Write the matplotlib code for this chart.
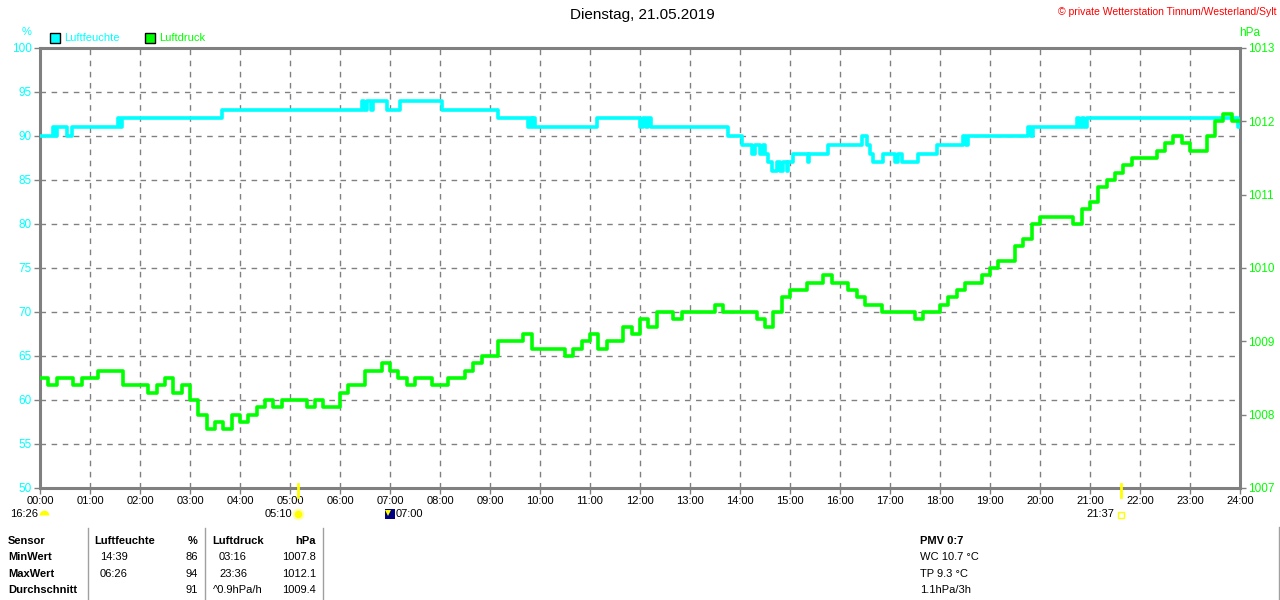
import matplotlib
matplotlib.use("Agg")
import matplotlib.pyplot as plt
from matplotlib.lines import Line2D
from matplotlib.patches import Rectangle
import matplotlib.transforms as mtransforms
import numpy as np

plt.rcParams['font.family'] = ['Liberation Sans', 'DejaVu Sans']

# ---------------- data ----------------
title = "Dienstag, 21.05.2019"
copyright_txt = "\u00a9 private Wetterstation Tinnum/Westerland/Sylt"

hour_labels = ["%02d:00" % h for h in range(25)]
hum_ticks = [50, 55, 60, 65, 70, 75, 80, 85, 90, 95, 100]
press_ticks = [1007, 1008, 1009, 1010, 1011, 1012, 1013]

hum_times = ["00:00", "00:16", "00:18", "00:20", "00:32", "00:38", "01:34", "01:36", "01:38", "03:38",
             "06:26", "06:29", "06:32", "06:37", "06:39", "06:56", "07:12", "08:02", "09:10", "09:46",
             "09:48", "09:50", "09:52", "09:54", "11:08", "12:00", "12:04", "12:07", "12:10", "12:13",
             "13:46", "14:02", "14:14", "14:18", "14:24", "14:27", "14:30", "14:34", "14:38", "14:44",
             "14:48", "14:52", "14:56", "14:58", "15:04", "15:21", "15:23", "15:46", "16:26", "16:32",
             "16:36", "16:40", "16:52", "17:06", "17:10", "17:14", "17:34", "17:56", "18:28", "18:31",
             "18:34", "19:46", "19:49", "19:52", "20:44", "20:47", "20:50", "20:53", "20:56", "23:58",
             "23:59"]
hum_vals = [90, 91, 90, 91, 90, 91, 92, 91, 92, 93,
            94, 93, 94, 93, 94, 93, 94, 93, 92, 91,
            92, 91, 92, 91, 92, 91, 92, 91, 92, 91,
            90, 89, 88, 89, 88, 89, 88, 87, 86, 87,
            86, 87, 86, 87, 88, 87, 88, 89, 90, 89,
            88, 87, 88, 87, 88, 87, 88, 89, 90, 89,
            90, 91, 90, 91, 92, 91, 92, 91, 92, 91,
            91]

# pressure every 10 minutes, 00:00 ... 24:00
press_vals = [
    1008.5, 1008.4, 1008.5, 1008.5, 1008.4, 1008.5,  # 00
    1008.5, 1008.6, 1008.6, 1008.6, 1008.4, 1008.4,  # 01
    1008.4, 1008.3, 1008.4, 1008.5, 1008.3, 1008.4,  # 02
    1008.2, 1008.0, 1007.8, 1007.9, 1007.8, 1008.0,  # 03
    1007.9, 1008.0, 1008.1, 1008.2, 1008.1, 1008.2,  # 04
    1008.2, 1008.2, 1008.1, 1008.2, 1008.1, 1008.1,  # 05
    1008.3, 1008.4, 1008.4, 1008.6, 1008.6, 1008.7,  # 06
    1008.6, 1008.5, 1008.4, 1008.5, 1008.5, 1008.4,  # 07
    1008.4, 1008.5, 1008.5, 1008.6, 1008.7, 1008.8,  # 08
    1008.8, 1009.0, 1009.0, 1009.0, 1009.1, 1008.9,  # 09
    1008.9, 1008.9, 1008.9, 1008.8, 1008.9, 1009.0,  # 10
    1009.1, 1008.9, 1009.0, 1009.0, 1009.2, 1009.1,  # 11
    1009.3, 1009.2, 1009.4, 1009.4, 1009.3, 1009.4,  # 12
    1009.4, 1009.4, 1009.4, 1009.5, 1009.4, 1009.4,  # 13
    1009.4, 1009.4, 1009.3, 1009.2, 1009.4, 1009.6,  # 14
    1009.7, 1009.7, 1009.8, 1009.8, 1009.9, 1009.8,  # 15
    1009.8, 1009.7, 1009.6, 1009.5, 1009.5, 1009.4,  # 16
    1009.4, 1009.4, 1009.4, 1009.3, 1009.4, 1009.4,  # 17
    1009.5, 1009.6, 1009.7, 1009.8, 1009.8, 1009.9,  # 18
    1010.0, 1010.1, 1010.1, 1010.3, 1010.4, 1010.6,  # 19
    1010.7, 1010.7, 1010.7, 1010.7, 1010.6, 1010.8,  # 20
    1010.9, 1011.1, 1011.2, 1011.3, 1011.4, 1011.5,  # 21
    1011.5, 1011.5, 1011.6, 1011.7, 1011.8, 1011.7,  # 22
    1011.6, 1011.6, 1011.8, 1012.0, 1012.1, 1012.0,  # 23
    1012.0]
press_step_min = 10

sun_events = ["05:10", "21:37"]
moon_time_label = "16:26"
other_time_label = "07:00"

table_header = ["Sensor", "Luftfeuchte", "%", "Luftdruck", "hPa"]
table_rows = [
    ["MinWert", "14:39", "86", "03:16", "1007.8"],
    ["MaxWert", "06:26", "94", "23:36", "1012.1"],
    ["Durchschnitt", "", "91", "^0.9hPa/h", "1009.4"],
]
extra_info = ["PMV 0:7", "WC 10.7 \u00b0C", "TP 9.3 \u00b0C", "1.1hPa/3h"]

# ---------------- helpers ----------------
def to_h(s):
    hh, mm = s.split(":")
    return int(hh) + int(mm) / 60.0

W, H = 1280, 600
CYAN = "#00FFFF"
GREEN = "#00FF00"
GRAY = "#808080"

fig = plt.figure(figsize=(W / 100, H / 100), dpi=100)
fig.patch.set_facecolor("white")

def T(x, y, s, **kw):
    kw.setdefault("va", "center")
    kw.setdefault("fontsize", 8)
    fig.text(x / W, 1 - y / H, s, **kw)

ax = fig.add_axes([40 / W, 112 / H, 1200 / W, 440 / H])
ax.set_xlim(0, 24)
ax.set_ylim(50, 100)
ax.set_xticks(range(25))
ax.set_xticklabels(hour_labels, fontsize=8)
ax.set_yticks(hum_ticks)
ax.set_yticklabels([str(v) for v in hum_ticks], fontsize=8.5)
ax.grid(True, color=GRAY, linestyle=(0, (4, 4)), linewidth=1)
ax.set_axisbelow(True)
for sp in ax.spines.values():
    sp.set_color(GRAY)
    sp.set_linewidth(2.2)
ax.tick_params(axis="y", labelcolor=CYAN, color=GRAY, length=4, width=1, pad=2)
ax.tick_params(axis="x", labelcolor="black", color=GRAY, length=4, width=1, pad=2)

hx = [to_h(t) for t in hum_times]
ax.plot(hx, hum_vals, color=CYAN, lw=2.6, drawstyle="steps-post", zorder=3)

ax2 = ax.twinx()
ax2.set_ylim(1007, 1013)
ax2.set_yticks(press_ticks)
ax2.set_yticklabels([str(v) for v in press_ticks], fontsize=8.5)
ax2.tick_params(axis="y", labelcolor=GREEN, color=GRAY, length=4, width=1, pad=2)
for sp in ax2.spines.values():
    sp.set_visible(False)
px = np.arange(len(press_vals)) * press_step_min / 60.0
ax2.plot(px, press_vals, color=GREEN, lw=2.6, drawstyle="steps-post", zorder=3)

# sunrise / sunset markers
trans = mtransforms.blended_transform_factory(ax.transData, ax.transAxes)
for s in sun_events:
    ax.plot([to_h(s), to_h(s)], [0.01, -0.021], color="#FFFF00", lw=2,
            transform=trans, clip_on=False, zorder=5)

# ---------------- header texts ----------------
T(642, 15, title, ha="center", fontsize=11)
T(1277, 12, copyright_txt, ha="right", color="#FF0000", fontsize=7.5)
T(27, 32, "%", ha="center", color=CYAN, fontsize=8)
T(1250, 33, "hPa", ha="center", color=GREEN, fontsize=8.5)

fig.add_artist(Rectangle((50 / W, 1 - 43 / H), 10 / W, 10 / H, facecolor=CYAN,
                         edgecolor="black", lw=1, transform=fig.transFigure))
T(64, 38, "Luftfeuchte", ha="left", color=CYAN, fontsize=8)
fig.add_artist(Rectangle((145 / W, 1 - 43 / H), 10 / W, 10 / H, facecolor=GREEN,
                         edgecolor="black", lw=1, transform=fig.transFigure))
T(159, 38, "Luftdruck", ha="left", color=GREEN, fontsize=8)

# ---------------- astro line under axis ----------------
T(38, 514, moon_time_label, ha="right", fontsize=8)
fig.add_artist(Line2D([44 / W], [1 - 515 / H], marker="o", markersize=7, fillstyle="top",
                      color="#FFFF00", markeredgewidth=0, linestyle="none"))
T(292, 514, sun_events[0], ha="right", fontsize=8)
fig.add_artist(Line2D([298 / W], [1 - 514 / H], marker="o", markersize=7,
                      markerfacecolor="#FFFF00", markeredgecolor="#FFFFAA",
                      markeredgewidth=1.5, linestyle="none"))
fig.add_artist(Rectangle((385 / W, 1 - 519 / H), 10 / W, 10 / H, facecolor="#000080",
                         edgecolor="none", transform=fig.transFigure))
fig.add_artist(Line2D([388 / W], [1 - 513 / H], marker="v", markersize=4,
                      color="#FFFF00", markeredgewidth=0, linestyle="none"))
T(396, 514, other_time_label, ha="left", fontsize=8)
T(1114, 514, sun_events[1], ha="right", fontsize=8)
fig.add_artist(Line2D([1121 / W], [1 - 515 / H], marker="s", markersize=4,
                      markerfacecolor="none", markeredgecolor="#FFFF00",
                      markeredgewidth=1, linestyle="none"))

# ---------------- table ----------------
row_y = [541, 557, 574, 590]
T(8, row_y[0], table_header[0], ha="left", fontweight="bold")
T(94, row_y[0], table_header[1], ha="left", fontweight="bold")
T(198, row_y[0], table_header[2], ha="right", fontweight="bold")
T(212, row_y[0], table_header[3], ha="left", fontweight="bold")
T(316, row_y[0], table_header[4], ha="right", fontweight="bold")
for i, r in enumerate(table_rows):
    y = row_y[i + 1]
    T(8, y, r[0], ha="left", fontweight="bold")
    T(100, y, r[1], ha="left")
    T(198, y, r[2], ha="right")
    T(213 if r[3].startswith("^") else 219, y, r[3], ha="left")
    T(316, y, r[4], ha="right")

for xs in (88, 205, 323):
    fig.add_artist(Line2D([xs / W, xs / W], [1 - 528 / H, 0], color="#A0A0A0", lw=1))
fig.add_artist(Line2D([1279 / W, 1279 / W], [1 - 527 / H, 0], color="#A0A0A0", lw=1))

T(920, row_y[0], extra_info[0], ha="left", fontweight="bold")
for i, s in enumerate(extra_info[1:]):
    T(920, row_y[i + 1], s, ha="left")

fig.savefig("out.png", dpi=100, facecolor="white")
